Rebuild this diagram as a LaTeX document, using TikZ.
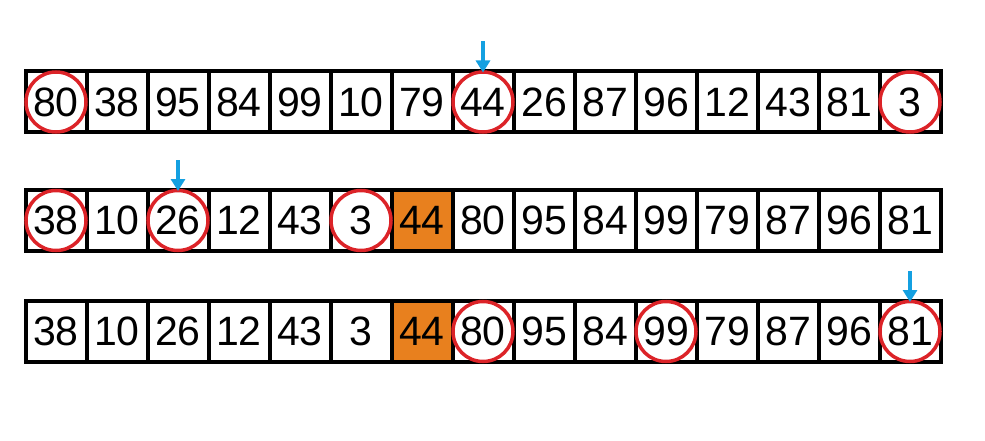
\documentclass[tikz,border=0pt]{standalone}
\usepackage{fontspec}
\setmainfont{Liberation Sans}
\usetikzlibrary{arrows.meta,positioning}
\definecolor{pivotorange}{RGB}{232,128,30}
\definecolor{ringred}{RGB}{220,35,40}
\definecolor{pointerblue}{RGB}{20,160,225}

\begin{document}
\begin{tikzpicture}[x=1pt,y=1pt,
    cell/.style={draw,line width=4pt,minimum size=61pt,inner sep=0pt,font=\fontsize{41}{41}\selectfont},
    pivot/.style={cell,fill=pivotorange},
    ring/.style={circle,draw=ringred,line width=3.5pt,minimum size=60pt,inner sep=0pt},
    pointer/.style={pointerblue,line width=3.5pt,-{Triangle[width=14pt,length=12pt]}}]
    \useasboundingbox (0,0) rectangle (985,-441);
    % the three passes
    \foreach \r/\y/\vals in {1/-102/{80,38,95,84,99,10,79,44,26,87,96,12,43,81,3},
                             2/-220.5/{38,10,26,12,43,3,44,80,95,84,99,79,87,96,81},
                             3/-331.5/{38,10,26,12,43,3,44,80,95,84,99,79,87,96,81}}{
        \foreach \v [count=\i] in \vals {
            \def\sty{cell}
            \ifnum\r>1 \ifnum\i=7 \def\sty{pivot}\fi\fi
            \node[\sty] (r\r c\i) at (25.5+61*\i-30.5,\y) {\v};
        }
    }
    % circled entries
    \foreach \c in {r1c1,r1c8,r1c15,r2c1,r2c3,r2c6,r3c8,r3c11,r3c15}
        \node[ring] (ring-\c) at (\c) {};
    % pointers
    \foreach \c in {r1c8,r2c3,r3c15}{
        \coordinate (top-\c) at ([yshift=28pt]\c.north);
        \draw[pointer] (top-\c) -- ([yshift=-3pt]\c.north);
    }
\end{tikzpicture}
\end{document}
